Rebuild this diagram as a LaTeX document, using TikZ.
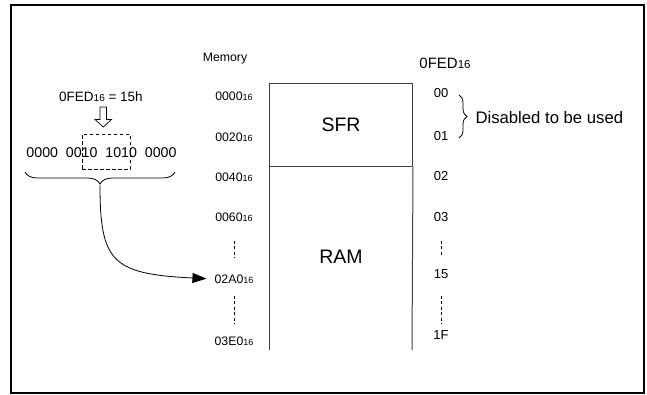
\documentclass[tikz,border=0pt]{standalone}
\usepackage{fontspec}
\setmainfont{Liberation Sans}
\usetikzlibrary{arrows.meta, positioning, decorations.pathreplacing}
\newcommand{\hexnum}[2]{#1{\fontsize{#2}{#2}\selectfont 16}}

\begin{document}
\begin{tikzpicture}[x=1pt, y=-1pt,
        addr/.style={inner sep=1pt, font=\fontsize{12.3}{12}\selectfont},
        val/.style={inner sep=1pt, font=\fontsize{13}{13}\selectfont},
        region/.style={font=\fontsize{19.5}{20}\selectfont},
        gap/.style={dash pattern=on 3pt off 2.5pt, line width=0.8pt},
        curly/.style={decorate, decoration={brace, amplitude=#1}, line width=0.8pt},
        arrow/.style={-{Triangle[length=14pt, width=10pt]}, line width=0.8pt}
    ]
        \useasboundingbox (0,0) rectangle (647,394);
        \draw[line width=2pt] (11,5) rectangle (644,393);
        % memory map
        \node[font=\fontsize{12.3}{12}\selectfont] (memlbl) at (225,59) {Memory};
        \node[font=\fontsize{15}{15}\selectfont] (fedlbl) at (445,63) {\hexnum{0FED}{11.5}};
        \node[draw=black!75, line width=1pt, minimum width=143pt, minimum height=83pt, anchor=north west, region] (sfr) at (269,83) {SFR};
        \coordinate (raml) at (269,350);
        \coordinate (ramr) at (412,350);
        \draw[black!75, line width=1pt] (sfr.south west) -- (raml);
        \draw[black!75, line width=1pt] (sfr.south east) -- (ramr);
        \node[region] (ram) at (341,257) {RAM};
        \node[addr] (a0000) at (234,96) {\hexnum{0000}{9}};
        \node[addr] (a0020) at (234,137) {\hexnum{0020}{9}};
        \node[addr] (a0040) at (234,177) {\hexnum{0040}{9}};
        \node[addr] (a0060) at (234,217) {\hexnum{0060}{9}};
        \node[addr] (a02A0) at (234,279) {\hexnum{02A0}{9}};
        \node[addr] (a03E0) at (234,341) {\hexnum{03E0}{9}};
        \node[val] (v00) at (441,93) {00};
        \node[val] (v01) at (441,136) {01};
        \node[val] (v02) at (441,176) {02};
        \node[val] (v03) at (441,217) {03};
        \node[val] (v15) at (441,274) {15};
        \node[val] (v1F) at (441,335) {1F};
        \draw[gap, shorten <=18pt, shorten >=16pt] (a0060) -- (a02A0);
        \draw[gap, shorten <=11pt, shorten >=11pt] (a02A0) -- (a03E0);
        \draw[gap, shorten <=18pt, shorten >=11pt] (v03) -- (v15);
        \draw[gap, shorten <=16pt, shorten >=5pt] (v15) -- (v1F);
        \coordinate (dtop) at (459,95);
        \coordinate (dbot) at (459,138);
        \draw[curly=8pt] (dtop) -- (dbot);
        \node[anchor=west, font=\fontsize{16.7}{17}\selectfont] (dis) at (472,118) {Disabled to be used};
        % bit selection
        \node[font=\fontsize{13.5}{14}\selectfont] (fedeq) at (101,97) {\hexnum{0FED}{10} = 15h};
        \draw[line width=0.7pt, fill=white] (100,107) -- (106.5,107) -- (106.5,119.5) -- (111.5,119.5)
            -- (103.25,127) -- (95,119.5) -- (100,119.5) -- cycle;
        \node[font=\fontsize{14.2}{14}\selectfont] (bin) at (101.5,153) {0000\ \ 0010\ \ 1010\ \ 0000};
        \node[draw, dash pattern=on 3.5pt off 2.5pt, line width=0.8pt, minimum width=48pt, minimum height=35pt] (sel) at (106,151.5) {};
        \coordinate (bl) at (25,172);
        \coordinate (br) at (175,172);
        \draw[curly=12pt] (br) -- (bl);
        \coordinate (bintip) at (100,185);
        \draw[arrow, shorten >=7pt] (bintip) .. controls (100,262) and (112,274) .. (a02A0.west);
    \end{tikzpicture}
\end{document}
